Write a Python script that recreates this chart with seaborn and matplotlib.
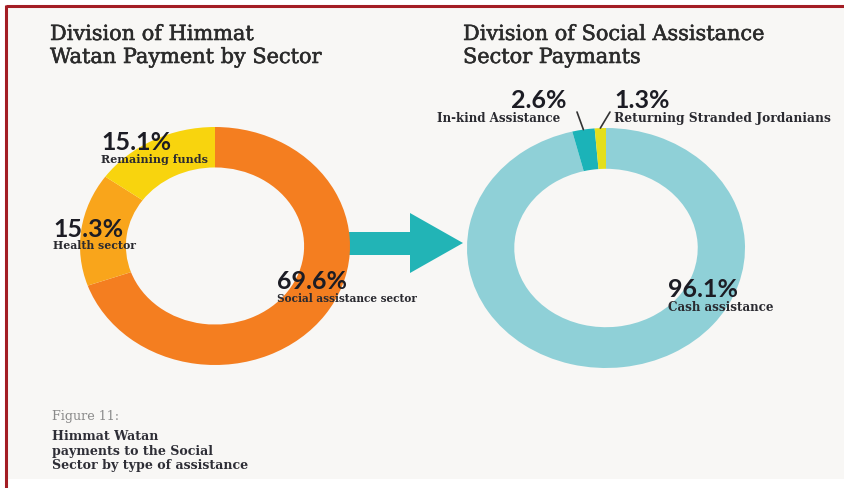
import matplotlib
matplotlib.use("Agg")
import matplotlib.pyplot as plt
import matplotlib.patches as mpatches
import matplotlib.patheffects as pe
import numpy as np
import seaborn as sns

# Veriler
sol_kategoriler = ["Social assistance sector", "Health sector", "Remaining funds"]
sol_degerler = [69.6, 15.3, 15.1]
sol_renkler = ["#f47e20", "#f9a51b", "#f8d40e"]

sag_kategoriler = ["Cash assistance", "In-kind Assistance", "Returning Stranded Jordanians"]
sag_degerler = [96.1, 2.6, 1.3]
sag_renkler = ["#8fd0d7", "#1bb3b8", "#e3df1c"]

sol_baslik = "Division of Himmat\nWatan Payment by Sector"
sag_baslik = "Division of Social Assistance\nSector Paymants"
figur_notu = "Figure 11:"
figur_aciklama = "Himmat Watan\npayments to the Social\nSector by type of assistance"

sns.set_theme(style="white")
plt.rcParams["font.family"] = ["DejaVu Serif"]

W, H = 844, 488
fig = plt.figure(figsize=(W / 100, H / 100), dpi=100)
fig.patch.set_facecolor("white")

# Arka plan, cerceve ve ok (piksel koordinatlari)
bg = fig.add_axes([0, 0, 1, 1], zorder=-1)
bg.set_xlim(0, W)
bg.set_ylim(H, 0)
bg.axis("off")
bg.add_patch(mpatches.Rectangle((6, 6), W, 473, facecolor="#f8f7f5", edgecolor="none"))
bg.plot([6, W], [6, 6], color="#a31d24", lw=2.2, solid_capstyle="butt")
bg.plot([6, 6], [5, H], color="#a31d24", lw=2.2, solid_capstyle="butt")
ok = mpatches.Polygon([(322, 232), (410, 232), (410, 213), (463, 243),
                       (410, 273), (410, 255), (322, 255)],
                      closed=True, facecolor="#22b4b6", edgecolor="none")
bg.add_patch(ok)


def halka(cx, cy, rx, ry, degerler, renkler):
    ax = fig.add_axes([(cx - rx) / W, (H - cy - ry) / H, 2 * rx / W, 2 * ry / H], zorder=2)
    wedges, _ = ax.pie(degerler, colors=renkler, startangle=90, counterclock=False,
                       wedgeprops=dict(width=0.34, linewidth=0))
    ax.set_aspect("auto")
    ax.set_xlim(-1, 1)
    ax.set_ylim(-1, 1)
    ax.axis("off")
    return ax, wedges


ax_sol, w_sol = halka(215, 246, 135, 119, sol_degerler, sol_renkler)
ax_sag, w_sag = halka(606, 248, 139, 120, sag_degerler, sag_renkler)

# Metin katmani
top = fig.add_axes([0, 0, 1, 1], zorder=5)
top.set_xlim(0, W)
top.set_ylim(H, 0)
top.axis("off")
top.patch.set_alpha(0)

kalin = [pe.withStroke(linewidth=0.4, foreground="#2b2b2b")]
baslik_stil = dict(fontsize=15, color="#2b2b2b", va="baseline", path_effects=kalin)
for x, baslik in [(50, sol_baslik), (463, sag_baslik)]:
    for i, satir in enumerate(baslik.split("\n")):
        top.text(x, 40 + i * 23, satir, **baslik_stil)

yuzde_stil = dict(fontsize=18, family="Lato", fontweight="bold", color="#1c1c24", va="baseline")
etiket_stil = dict(fontweight="bold", color="#2a2a30", va="baseline")

# (x, yuzde baseline, etiket x, etiket baseline, hizalama, etiket boyutu)
sol_konum = [(277, 289, 277, 302, "left", 7.6),
             (53, 237, 53, 249, "left", 7.8),
             (101, 150, 101, 163, "left", 8.0)]
for kat, deg, (x, y1, ex, y2, ha, fs) in zip(sol_kategoriler, sol_degerler, sol_konum):
    top.text(x, y1, f"{deg}%", ha=ha, **yuzde_stil)
    top.text(ex, y2, kat, ha=ha, fontsize=fs, **etiket_stil)

sag_konum = [(668, 297, 668, 311, "left", 8.6),
             (567, 108, 560, 122, "right", 8.6),
             (614, 108, 614, 122, "left", 8.8)]
for kat, deg, (x, y1, ex, y2, ha, fs) in zip(sag_kategoriler, sag_degerler, sag_konum):
    top.text(x, y1, f"{deg}%", ha=ha, **yuzde_stil)
    top.text(ex, y2, kat, ha=ha, fontsize=fs, **etiket_stil)

# Kucuk dilimler icin cizgiler
for w, (tx, ty) in zip(w_sag[1:], [(577, 112), (610, 112)]):
    aci = np.deg2rad((w.theta1 + w.theta2) / 2)
    ax_sag.annotate("", xy=(np.cos(aci), np.sin(aci)), xycoords="data",
                    xytext=(tx, ty), textcoords=top.transData,
                    arrowprops=dict(arrowstyle="-", color="#333333", lw=1.2,
                                    shrinkA=0, shrinkB=0))

# Figur aciklamasi
top.text(52, 420, figur_notu, fontsize=9.2, color="#8a8a8a", va="baseline")
for i, satir in enumerate(figur_aciklama.split("\n")):
    top.text(52, 440 + i * 14.5, satir, fontsize=9.1, fontweight="bold",
             color="#2e2e36", va="baseline")

plt.savefig("out.png", dpi=100, facecolor="white")
